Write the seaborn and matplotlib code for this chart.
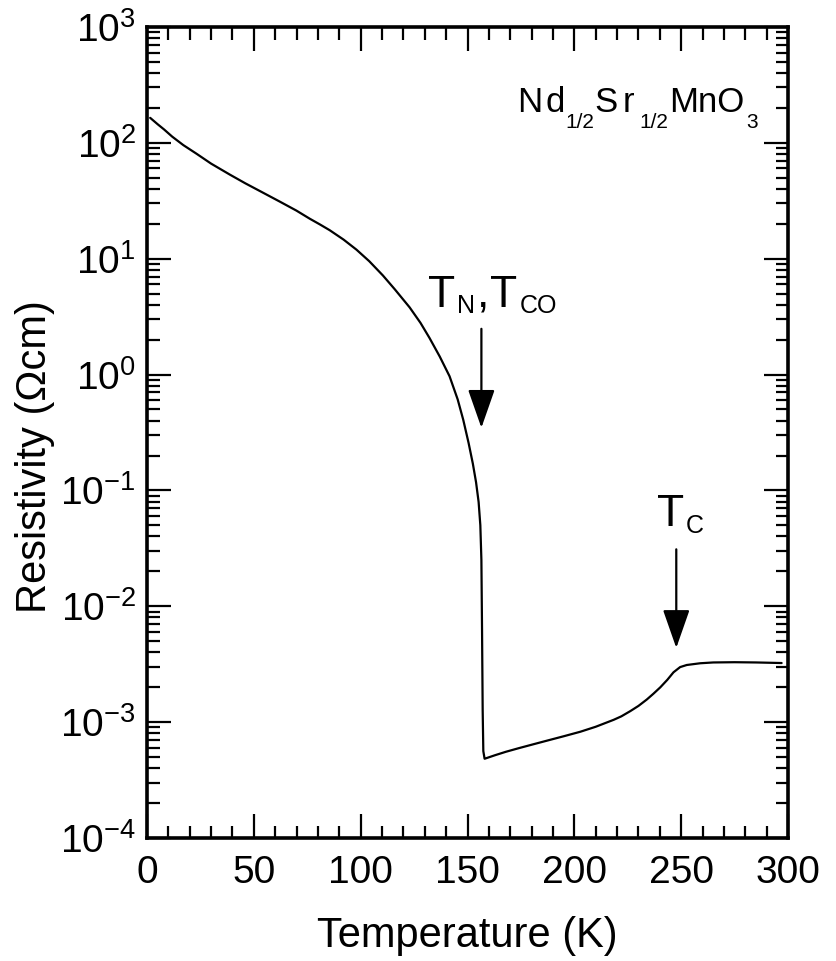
import matplotlib
matplotlib.use("Agg")
import matplotlib.pyplot as plt
from matplotlib.ticker import FixedLocator, LogLocator, MultipleLocator, NullFormatter
import pandas as pd
import seaborn as sns

# Resistivity of Nd1/2Sr1/2MnO3 versus temperature
temperature_K = [1.5, 5, 8, 11.8, 17, 23.2, 30, 38.8, 46, 54.4, 62.1, 69.9,
                 76.2, 81, 85.5, 92, 98, 104, 110.4, 116, 122.9, 128, 132.2,
                 137, 141.6, 145.4, 148, 150.5, 152.5, 154, 155.2, 156, 156.5,
                 156.8, 157.1, 157.4, 158, 163, 168, 174, 180, 187.2, 195,
                 202.8, 210, 218.4, 222, 226.2, 230, 233.9, 237, 240.2, 243.5,
                 246.4, 249.5, 252.6, 258.9, 265, 275, 285, 297]
resistivity_ohm_cm = [164.1, 144.5, 130.3, 113.0, 95.5, 80.4, 66.1, 53.1, 44.7,
                      37.0, 31.1, 26.0, 22.1, 19.7, 17.6, 14.6, 11.97, 9.51,
                      7.16, 5.43, 3.80, 2.79, 2.07, 1.43, 0.966, 0.610, 0.407,
                      0.257, 0.170, 0.1175, 0.0794, 0.0501, 0.0251, 6.31e-3,
                      1.26e-3, 5.62e-4, 4.83e-4, 5.19e-4, 5.55e-4, 5.96e-4,
                      6.38e-4, 6.92e-4, 7.55e-4, 8.26e-4, 9.12e-4, 1.047e-3,
                      1.122e-3, 1.245e-3, 1.380e-3, 1.567e-3, 1.758e-3,
                      1.995e-3, 2.317e-3, 2.692e-3, 2.985e-3, 3.112e-3,
                      3.221e-3, 3.273e-3, 3.289e-3, 3.273e-3, 3.236e-3]

x_ticks = [0, 50, 100, 150, 200, 250, 300]
y_exponents = [-4, -3, -2, -1, 0, 1, 2, 3]
y_tick_labels = [r"$\mathregular{10^{%d}}$" % e for e in y_exponents]

# transition temperatures marked by arrows
T_N = 156.5
T_C = 247.7

sns.set_theme(style="ticks")
plt.rcParams.update({
    "font.family": ["Liberation Sans", "DejaVu Sans"],
    "mathtext.fontset": "custom",
    "mathtext.rm": "Liberation Sans",
    "mathtext.it": "Liberation Sans:italic",
    "mathtext.bf": "Liberation Sans:bold",
    "text.color": "black",
    "axes.labelcolor": "black",
    "axes.edgecolor": "black",
    "axes.linewidth": 2.6,
    "xtick.color": "black",
    "ytick.color": "black",
    "xtick.labelcolor": "black",
    "ytick.labelcolor": "black",
})

df = pd.DataFrame({"T": temperature_K, "rho": resistivity_ohm_cm})

fig = plt.figure(figsize=(8.37, 9.61), dpi=100)
ax = fig.add_axes([0.1756, 0.128, 0.7659, 0.844])

sns.lineplot(data=df, x="T", y="rho", ax=ax, color="black", linewidth=1.6,
             estimator=None, sort=False, solid_joinstyle="round")
ax.set_yscale("log")
ax.set_xlim(0, 300)
ax.set_ylim(1e-4, 1e3)

ax.xaxis.set_major_locator(FixedLocator(x_ticks))
ax.xaxis.set_minor_locator(MultipleLocator(10))
ax.set_xticklabels([str(t) for t in x_ticks])
ax.yaxis.set_major_locator(FixedLocator([10.0 ** e for e in y_exponents]))
ax.yaxis.set_minor_locator(LogLocator(base=10, subs=range(2, 10), numticks=20))
ax.yaxis.set_minor_formatter(NullFormatter())
ax.set_yticklabels(y_tick_labels)

ax.tick_params(which="both", direction="in", top=True, right=True, color="black")
ax.tick_params(which="major", length=17, width=1.6, labelsize=28, pad=8)
ax.tick_params(which="minor", length=9, width=1.6)
ax.tick_params(axis="x", which="major", pad=12)

ax.set_xlabel("Temperature (K)", fontsize=30, labelpad=18)
ax.set_ylabel("Resistivity (\u03a9cm)", fontsize=30)
ax.yaxis.set_label_coords(-0.1435, 0.47)
ax.grid(False)

# transition arrows
arrow = dict(arrowstyle="-|>,head_length=1.2,head_width=0.42", color="black",
             lw=1.6, mutation_scale=20, shrinkA=0, shrinkB=0)
ax.annotate("", xy=(T_N, 0.347), xytext=(T_N, 2.48), arrowprops=arrow)
ax.annotate("", xy=(T_C, 4.37e-3), xytext=(T_C, 0.031), arrowprops=arrow)

big, small = 32, 18
ax.text(131.3, 3.86, "T", fontsize=big, va="baseline")
ax.text(145.3, 3.39, "N", fontsize=small, va="baseline")
ax.text(154.5, 3.86, ",", fontsize=big, va="baseline")
ax.text(160.3, 3.86, "T", fontsize=big, va="baseline")
ax.text(174.3, 3.39, "CO", fontsize=small, va="baseline")

ax.text(238.8, 0.0489, "T", fontsize=big, va="baseline")
ax.text(252.3, 0.0431, "C", fontsize=small, va="baseline")

# compound formula
main, sub = 25, 15
ax.text(173.0, 185, "N", fontsize=main, va="baseline")
ax.text(186.6, 185, "d", fontsize=main, va="baseline")
ax.text(195.6, 135, "1/2", fontsize=sub, va="baseline")
ax.text(209.3, 185, "S", fontsize=main, va="baseline")
ax.text(222.4, 185, "r", fontsize=main, va="baseline")
ax.text(230.4, 135, "1/2", fontsize=sub, va="baseline")
ax.text(244.4, 185, "MnO", fontsize=main, va="baseline")
ax.text(280.4, 135, "3", fontsize=sub, va="baseline")

fig.savefig("out.png", dpi=100)
